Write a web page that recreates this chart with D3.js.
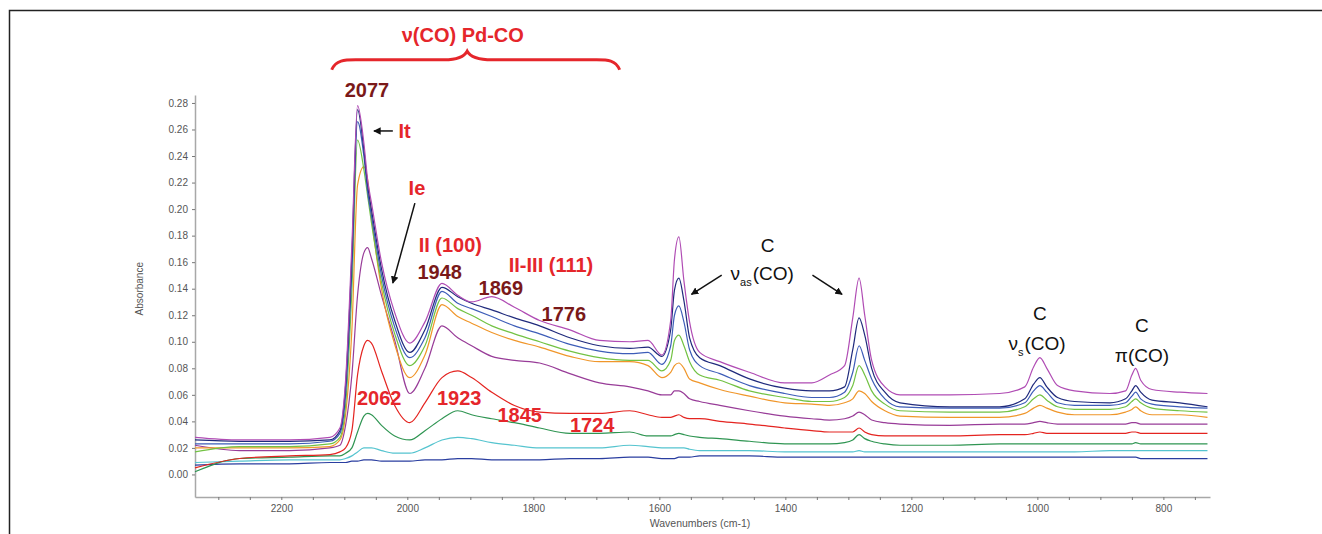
<!DOCTYPE html>
<html>
<head>
<meta charset="utf-8">
<script src="https://cdn.jsdelivr.net/npm/d3@7"></script>
<style>
  body { margin: 0; background: #fff; }
  svg { display: block; font-family: "Liberation Sans", Arial, sans-serif; }
</style>
</head>
<body>
<div id="chart"></div>
<script>
// Wavenumber grid (cm-1) shared by all spectra
const wavenumbers = [2337, 2266, 2187, 2123, 2107, 2098, 2088, 2079, 2069, 2063,
  2057, 2041, 2020, 1996, 1972, 1945, 1920, 1898, 1866, 1830,
  1790, 1742, 1695, 1647, 1618, 1596, 1582, 1576, 1569, 1561,
  1552, 1536, 1504, 1457, 1401, 1358, 1330, 1306, 1293, 1283,
  1274, 1263, 1242, 1218, 1139, 1060, 1020, 1006, 996, 985,
  968, 941, 885, 860, 850, 844, 836, 818, 774, 730];

// Absorbance of each spectrum, top to bottom
const s1 = [0.028, 0.026, 0.026, 0.028, 0.035, 0.071, 0.173, 0.278, 0.250, 0.222,
  0.205, 0.160, 0.122, 0.099, 0.115, 0.144, 0.135, 0.130, 0.134, 0.126,
  0.116, 0.109, 0.101, 0.100, 0.101, 0.090, 0.116, 0.162, 0.179, 0.146,
  0.115, 0.092, 0.085, 0.077, 0.069, 0.069, 0.075, 0.082, 0.118, 0.148,
  0.120, 0.086, 0.066, 0.060, 0.060, 0.061, 0.066, 0.081, 0.088, 0.080,
  0.067, 0.063, 0.061, 0.063, 0.075, 0.080, 0.071, 0.064, 0.062, 0.061];
const s2 = [0.026, 0.025, 0.025, 0.026, 0.033, 0.067, 0.165, 0.275, 0.245, 0.218,
  0.200, 0.155, 0.116, 0.092, 0.109, 0.141, 0.134, 0.129, 0.124, 0.118,
  0.112, 0.103, 0.097, 0.095, 0.096, 0.089, 0.109, 0.139, 0.148, 0.131,
  0.103, 0.088, 0.082, 0.072, 0.065, 0.063, 0.063, 0.066, 0.094, 0.118,
  0.105, 0.080, 0.062, 0.054, 0.051, 0.051, 0.057, 0.068, 0.073, 0.066,
  0.058, 0.055, 0.054, 0.057, 0.063, 0.067, 0.062, 0.056, 0.054, 0.051];
const s3 = [0.023, 0.023, 0.023, 0.025, 0.031, 0.060, 0.154, 0.266, 0.240, 0.213,
  0.195, 0.150, 0.111, 0.088, 0.103, 0.138, 0.129, 0.125, 0.119, 0.112,
  0.106, 0.098, 0.093, 0.091, 0.092, 0.083, 0.097, 0.120, 0.127, 0.115,
  0.094, 0.082, 0.076, 0.067, 0.061, 0.058, 0.058, 0.062, 0.077, 0.097,
  0.086, 0.072, 0.057, 0.051, 0.050, 0.050, 0.054, 0.063, 0.067, 0.062,
  0.054, 0.052, 0.052, 0.054, 0.059, 0.062, 0.057, 0.053, 0.051, 0.050];
const s4 = [0.017, 0.021, 0.021, 0.023, 0.028, 0.052, 0.139, 0.252, 0.230, 0.210,
  0.190, 0.145, 0.106, 0.082, 0.097, 0.133, 0.125, 0.120, 0.112, 0.106,
  0.100, 0.093, 0.088, 0.086, 0.086, 0.078, 0.086, 0.101, 0.105, 0.097,
  0.085, 0.075, 0.071, 0.063, 0.058, 0.055, 0.055, 0.058, 0.067, 0.082,
  0.075, 0.063, 0.053, 0.048, 0.047, 0.047, 0.051, 0.057, 0.060, 0.056,
  0.051, 0.049, 0.049, 0.051, 0.055, 0.057, 0.054, 0.050, 0.048, 0.047];
const s5 = [0.020, 0.020, 0.020, 0.021, 0.026, 0.045, 0.109, 0.218, 0.232, 0.222,
  0.195, 0.140, 0.098, 0.073, 0.090, 0.128, 0.119, 0.114, 0.107, 0.101,
  0.096, 0.089, 0.085, 0.085, 0.082, 0.073, 0.077, 0.082, 0.084, 0.080,
  0.072, 0.069, 0.064, 0.059, 0.054, 0.053, 0.052, 0.054, 0.057, 0.063,
  0.061, 0.055, 0.048, 0.044, 0.043, 0.043, 0.046, 0.050, 0.052, 0.050,
  0.047, 0.045, 0.045, 0.047, 0.049, 0.051, 0.048, 0.045, 0.045, 0.043];
const s6 = [0.022, 0.018, 0.018, 0.020, 0.022, 0.037, 0.075, 0.135, 0.167, 0.171,
  0.163, 0.135, 0.101, 0.061, 0.080, 0.112, 0.103, 0.097, 0.089, 0.086,
  0.084, 0.076, 0.069, 0.066, 0.063, 0.060, 0.060, 0.063, 0.063, 0.061,
  0.057, 0.055, 0.052, 0.048, 0.044, 0.042, 0.041, 0.042, 0.044, 0.047,
  0.045, 0.041, 0.039, 0.038, 0.037, 0.038, 0.038, 0.039, 0.040, 0.039,
  0.038, 0.038, 0.038, 0.038, 0.039, 0.039, 0.038, 0.038, 0.038, 0.038];
const s7 = [0.005, 0.012, 0.014, 0.015, 0.017, 0.020, 0.033, 0.075, 0.097, 0.101,
  0.099, 0.078, 0.052, 0.039, 0.054, 0.073, 0.078, 0.073, 0.062, 0.052,
  0.047, 0.046, 0.046, 0.048, 0.045, 0.043, 0.043, 0.044, 0.045, 0.043,
  0.042, 0.042, 0.040, 0.038, 0.035, 0.033, 0.032, 0.032, 0.032, 0.035,
  0.032, 0.030, 0.029, 0.029, 0.029, 0.030, 0.030, 0.031, 0.032, 0.031,
  0.031, 0.031, 0.031, 0.031, 0.032, 0.032, 0.031, 0.031, 0.031, 0.031];
const s8 = [0.002, 0.012, 0.013, 0.014, 0.014, 0.016, 0.020, 0.032, 0.044, 0.046,
  0.045, 0.037, 0.029, 0.026, 0.033, 0.042, 0.048, 0.045, 0.042, 0.039,
  0.035, 0.031, 0.031, 0.032, 0.029, 0.029, 0.029, 0.030, 0.031, 0.030,
  0.029, 0.028, 0.027, 0.025, 0.023, 0.023, 0.023, 0.024, 0.026, 0.030,
  0.027, 0.025, 0.023, 0.022, 0.022, 0.023, 0.023, 0.023, 0.023, 0.023,
  0.023, 0.023, 0.023, 0.023, 0.023, 0.024, 0.023, 0.023, 0.023, 0.023];
const s9 = [0.009, 0.010, 0.011, 0.011, 0.011, 0.012, 0.014, 0.017, 0.020, 0.020,
  0.020, 0.018, 0.016, 0.016, 0.020, 0.026, 0.028, 0.027, 0.024, 0.022,
  0.020, 0.020, 0.020, 0.022, 0.021, 0.020, 0.020, 0.020, 0.020, 0.020,
  0.019, 0.018, 0.018, 0.018, 0.017, 0.017, 0.017, 0.017, 0.017, 0.018,
  0.017, 0.017, 0.017, 0.017, 0.017, 0.017, 0.017, 0.017, 0.017, 0.017,
  0.017, 0.017, 0.018, 0.018, 0.018, 0.018, 0.018, 0.018, 0.018, 0.018];
const s10 = [0.007, 0.008, 0.008, 0.009, 0.009, 0.009, 0.010, 0.010, 0.011, 0.011,
  0.011, 0.010, 0.010, 0.010, 0.011, 0.011, 0.012, 0.012, 0.011, 0.011,
  0.011, 0.012, 0.012, 0.013, 0.013, 0.012, 0.012, 0.012, 0.013, 0.013,
  0.013, 0.014, 0.014, 0.014, 0.013, 0.013, 0.013, 0.013, 0.013, 0.013,
  0.013, 0.013, 0.013, 0.013, 0.013, 0.013, 0.013, 0.013, 0.013, 0.013,
  0.013, 0.013, 0.013, 0.013, 0.013, 0.013, 0.012, 0.012, 0.012, 0.012];

const spectra = [s1, s2, s3, s4, s5, s6, s7, s8, s9, s10];
const spectrumColors = ['#b04cb4', '#1f2a7c', '#3d5db8', '#72c243', '#f0962a',
  '#983c98', '#e42420', '#2f9552', '#55c4cf', '#2a3ea0'];

// Axis ticks
const yTicks = [0.00, 0.02, 0.04, 0.06, 0.08, 0.10, 0.12, 0.14, 0.16, 0.18, 0.20, 0.22, 0.24, 0.26, 0.28];
const xLabelTicks = [2200, 2000, 1800, 1600, 1400, 1200, 1000, 800];
const xMinorTicks = d3.range(2300, 749, -50);

const width = 1322, height = 534;
const red = '#e5262b', darkRed = '#7a1919';

const svg = d3.select('#chart').append('svg')
    .attr('width', width)
    .attr('height', height);

// Figure frame (top and left edges of the cropped figure)
svg.append('path')
    .attr('d', `M9.5,${height} V10.5 H${width}`)
    .attr('fill', 'none')
    .attr('stroke', '#222')
    .attr('stroke-width', 1.5);

const x = d3.scaleLinear().domain([2337, 726]).range([195, 1210]);
const y = d3.scaleLinear().domain([-0.017, 0.286]).range([497, 95]);

// Axes
const yAxis = svg.append('g')
    .attr('transform', 'translate(195,0)')
    .call(d3.axisLeft(y).tickValues(yTicks).tickSize(3).tickSizeOuter(0).tickFormat(d3.format('.2f')));
const xAxis = svg.append('g')
    .attr('transform', 'translate(0,497)')
    .call(d3.axisBottom(x).tickValues(xMinorTicks).tickSize(3).tickSizeOuter(0)
        .tickFormat(d => xLabelTicks.includes(d) ? d : ''));

[yAxis, xAxis].forEach(ax => {
    ax.select('.domain').attr('stroke', '#a8a8a8').attr('stroke-width', 1.5);
    ax.selectAll('.tick line').attr('stroke', '#777');
    ax.selectAll('.tick text')
        .attr('fill', '#555')
        .style('font-size', '10px')
        .style('font-family', '"Liberation Sans", Arial, sans-serif');
});
yAxis.selectAll('.tick text').attr('x', -7);
xAxis.selectAll('.tick text').attr('y', 8);

// Axis titles
svg.append('text')
    .attr('transform', `translate(143,${y(0.14)}) rotate(-90)`)
    .attr('text-anchor', 'middle')
    .attr('fill', '#555')
    .style('font-size', '10px')
    .text('Absorbance');

svg.append('text')
    .attr('x', 700)
    .attr('y', 527)
    .attr('text-anchor', 'middle')
    .attr('fill', '#555')
    .style('font-size', '10.5px')
    .text('Wavenumbers (cm-1)');

// Spectra
const line = d3.line()
    .x((d, i) => x(wavenumbers[i]))
    .y(d => y(d))
    .curve(d3.curveMonotoneX);

svg.append('g')
    .selectAll('path')
    .data(spectra.slice().reverse())
    .enter()
    .append('path')
    .attr('fill', 'none')
    .attr('stroke', (d, i) => spectrumColors[spectra.length - 1 - i])
    .attr('stroke-width', 1.2)
    .attr('stroke-linejoin', 'round')
    .attr('d', line);

// Arrow marker
svg.append('defs').append('marker')
    .attr('id', 'arrow')
    .attr('viewBox', '0 0 10 10')
    .attr('refX', 9)
    .attr('refY', 5)
    .attr('markerWidth', 5)
    .attr('markerHeight', 5)
    .attr('orient', 'auto')
    .append('path')
    .attr('d', 'M0,0 L10,5 L0,10 Z')
    .attr('fill', '#111');

// Curly brace over the Pd-CO region
const braceL = 2120, braceR = 1663, braceM = 1905;
const bY = 0.3125, bEnd = 0.305, bTip = 0.319;
svg.append('path')
    .attr('d', `M${x(braceL)},${y(bEnd)} C${x(braceL) + 4},${y(bY)} ${x(braceL) + 13},${y(bY)} ${x(braceL) + 24},${y(bY)}
        L${x(braceM) - 23},${y(bY)} C${x(braceM) - 9},${y(bY)} ${x(braceM) - 3},${y(bY) - 3} ${x(braceM)},${y(bTip)}
        C${x(braceM) + 3},${y(bY) - 3} ${x(braceM) + 11},${y(bY)} ${x(braceM) + 25},${y(bY)}
        L${x(braceR) - 23},${y(bY)} C${x(braceR) - 12},${y(bY)} ${x(braceR) - 4},${y(bY)} ${x(braceR)},${y(bEnd)}`)
    .attr('fill', 'none')
    .attr('stroke', red)
    .attr('stroke-width', 3);

// Bold band labels
const bandLabels = [
    { text: 'ν(CO) Pd-CO', wn: 1912, ab: 0.326, color: red, anchor: 'middle' },
    { text: '2077', wn: 2064, ab: 0.2845, color: darkRed, anchor: 'middle' },
    { text: 'It', wn: 2014, ab: 0.2536, color: red, anchor: 'start' },
    { text: 'Ie', wn: 1998, ab: 0.2106, color: red, anchor: 'start' },
    { text: 'II (100)', wn: 1982, ab: 0.1675, color: red, anchor: 'start' },
    { text: '1948', wn: 1984, ab: 0.1472, color: darkRed, anchor: 'start' },
    { text: 'II-III (111)', wn: 1839, ab: 0.1525, color: red, anchor: 'start' },
    { text: '1869', wn: 1887, ab: 0.1351, color: darkRed, anchor: 'start' },
    { text: '1776', wn: 1787, ab: 0.1155, color: darkRed, anchor: 'start' },
    { text: '2062', wn: 2080, ab: 0.0521, color: red, anchor: 'start' },
    { text: '1923', wn: 1953, ab: 0.0521, color: red, anchor: 'start' },
    { text: '1845', wn: 1857, ab: 0.0392, color: red, anchor: 'start' },
    { text: '1724', wn: 1742, ab: 0.0317, color: red, anchor: 'start' }
];

svg.append('g')
    .selectAll('text')
    .data(bandLabels)
    .enter()
    .append('text')
    .attr('x', d => x(d.wn))
    .attr('y', d => y(d.ab))
    .attr('text-anchor', d => d.anchor)
    .attr('fill', d => d.color)
    .style('font-size', '20px')
    .style('font-weight', 'bold')
    .text(d => d.text);

// Carbonate labels (black, regular)
const cLabels = [
    { wn: 1428, ab: 0.1675 },
    { wn: 996, ab: 0.1162 },
    { wn: 834, ab: 0.1072 }
];
svg.append('g')
    .selectAll('text')
    .data(cLabels)
    .enter()
    .append('text')
    .attr('x', d => x(d.wn))
    .attr('y', d => y(d.ab))
    .attr('text-anchor', 'middle')
    .attr('fill', '#111')
    .style('font-size', '19px')
    .text('C');

const modeLabels = [
    { sym: 'ν', sub: 'as', wn: 1487, ab: 0.1464 },
    { sym: 'ν', sub: 's', wn: 1046, ab: 0.0936 },
    { sym: 'π', sub: '', wn: 877, ab: 0.0845 }
];
modeLabels.forEach(m => {
    const t = svg.append('text')
        .attr('x', x(m.wn))
        .attr('y', y(m.ab))
        .attr('fill', '#111')
        .style('font-size', '19px');
    t.append('tspan').text(m.sym);
    if (m.sub) {
        t.append('tspan').attr('dx', 0).attr('dy', 6).style('font-size', '11px').text(m.sub);
        t.append('tspan').attr('dx', 1).attr('dy', -6).text('(CO)');
    } else {
        t.append('tspan').text('(CO)');
    }
});

// Arrows
const arrows = [
    { from: [2023, 0.2589], to: [2053, 0.2589] },
    { from: [1988, 0.2045], to: [2023, 0.1442] },
    { from: [1501, 0.1502], to: [1549, 0.1358] },
    { from: [1357, 0.1502], to: [1310, 0.1358] }
];
svg.append('g')
    .selectAll('line')
    .data(arrows)
    .enter()
    .append('line')
    .attr('x1', d => x(d.from[0]))
    .attr('y1', d => y(d.from[1]))
    .attr('x2', d => x(d.to[0]))
    .attr('y2', d => y(d.to[1]))
    .attr('stroke', '#111')
    .attr('stroke-width', 1.5)
    .attr('marker-end', 'url(#arrow)');
</script>
</body>
</html>
